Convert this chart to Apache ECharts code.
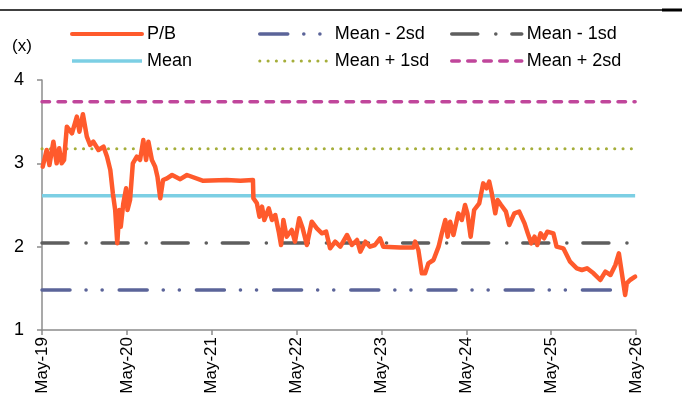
<!DOCTYPE html>
<html>
<head>
<meta charset="utf-8">
<script src="https://cdn.jsdelivr.net/npm/echarts@6/dist/echarts.min.js"></script>
<style>
html,body{margin:0;padding:0;background:#fff;}
#chart{width:682px;height:397px;}
</style>
</head>
<body>
<div id="chart"></div>
<script>
// ---- data ----
const dates = [
'2019-05-04','2019-05-21','2019-06-02','2019-06-19','2019-07-03','2019-07-14','2019-07-25','2019-08-04','2019-08-16','2019-09-07',
'2019-09-28','2019-10-09','2019-10-24','2019-11-10','2019-11-24','2019-12-08','2019-12-30','2020-01-21','2020-02-05','2020-02-19',
'2020-03-01','2020-03-11','2020-03-20','2020-03-29','2020-04-04','2020-04-15','2020-04-27','2020-05-03','2020-05-14','2020-05-26',
'2020-06-12','2020-06-26','2020-07-10','2020-07-22','2020-08-01','2020-08-16','2020-08-30','2020-09-09','2020-09-21','2020-10-03',
'2020-10-20','2020-11-11','2020-12-16','2021-01-14','2021-03-25','2021-07-04','2021-09-01','2021-10-25','2021-10-27','2021-11-11',
'2021-11-22','2021-12-03','2021-12-13','2022-01-01','2022-01-15','2022-01-29','2022-02-13','2022-02-23','2022-03-05','2022-03-19',
'2022-04-10','2022-04-24','2022-05-12','2022-05-27','2022-06-14','2022-07-05','2022-07-27','2022-08-18','2022-09-05','2022-09-22',
'2022-10-14','2022-11-05','2022-12-04','2022-12-25','2023-01-16','2023-01-30','2023-02-21','2023-03-13','2023-04-03','2023-04-25',
'2023-05-09','2023-07-20','2023-09-16','2023-09-23','2023-10-07','2023-10-22','2023-11-05','2023-11-19','2023-12-11','2024-01-02',
'2024-01-16','2024-01-31','2024-02-10','2024-02-21','2024-03-06','2024-03-27','2024-04-11','2024-04-25','2024-05-05','2024-05-19',
'2024-06-03','2024-06-25','2024-07-12','2024-07-26','2024-08-07','2024-08-18','2024-09-02','2024-09-12','2024-09-27','2024-10-18',
'2024-11-01','2024-11-23','2024-12-14','2025-01-06','2025-01-20','2025-02-04','2025-02-18','2025-03-02','2025-03-16','2025-03-31',
'2025-04-14','2025-05-10','2025-05-24','2025-06-22','2025-07-21','2025-08-19','2025-09-10','2025-10-02','2025-10-30','2025-11-28',
'2025-12-20','2026-01-11','2026-02-01','2026-02-16','2026-03-01','2026-03-15','2026-03-22','2026-04-05','2026-04-27'
];
const pb = [
2.96,3.16,2.98,3.26,3.00,3.18,3.00,3.04,3.44,3.36,
3.56,3.38,3.59,3.32,3.22,3.26,3.16,3.20,3.08,2.92,
2.64,2.44,2.04,2.44,2.24,2.52,2.70,2.44,2.56,3.00,
3.08,3.04,3.28,3.04,3.26,3.04,2.96,2.84,2.58,2.80,
2.82,2.86,2.81,2.86,2.79,2.80,2.79,2.80,2.58,2.52,
2.36,2.48,2.32,2.46,2.32,2.38,2.18,2.02,2.32,2.12,
2.20,2.06,2.34,2.22,2.02,2.30,2.22,2.16,2.18,1.98,
2.06,2.00,2.14,2.02,2.08,1.94,2.06,2.00,2.02,2.10,
2.00,1.99,1.99,2.06,1.96,1.68,1.68,1.80,1.84,2.00,
2.16,2.32,2.12,2.30,2.14,2.40,2.32,2.50,2.40,2.12,
2.44,2.52,2.76,2.70,2.78,2.64,2.40,2.56,2.50,2.42,
2.26,2.40,2.42,2.28,2.16,2.04,2.12,2.02,2.16,2.10,
2.18,2.16,2.00,1.98,1.82,1.74,1.72,1.74,1.68,1.60,
1.70,1.66,1.78,1.92,1.68,1.42,1.56,1.60,1.64
];
const bandNames = ['Mean - 2sd','Mean - 1sd','Mean','Mean + 1sd','Mean + 2sd'];
const bandValues = [1.48, 2.045, 2.61, 3.175, 3.74];
const bandStart = '2019-05-01';
const bandEnd = '2026-04-27';
const xTickLabels = ['May-19','May-20','May-21','May-22','May-23','May-24','May-25','May-26'];
const yTickLabels = ['1','2','3','4'];

// ---- helpers ----
const origin = Date.parse('2019-05-01T00:00:00Z');
const yearMs = 365.25 * 864e5;
const toX = d => (Date.parse(d + 'T00:00:00Z') - origin) / yearMs;

const bandStyles = {
  'Mean - 2sd': {color:'#5b6499', width:3.5, type:[28,16,0.1,16,0.1,17], cap:'round'},
  'Mean - 1sd': {color:'#5e5e5e', width:3.5, type:[26,18,0.1,16], cap:'round'},
  'Mean':       {color:'#7ccfe4', width:3.5, type:'solid', cap:'butt'},
  'Mean + 1sd': {color:'#a5ae3a', width:3, type:[0.1,8.2], cap:'round'},
  'Mean + 2sd': {color:'#c0469b', width:3.5, type:[7.5,8.5], cap:'round'}
};
const pbColor = '#ff5a2c';

const series = [];
series.push({
  name:'P/B', type:'line', symbol:'none', z:5,
  data: dates.map((d,i)=>[toX(d), pb[i]]),
  lineStyle:{color:pbColor, width:4.5, join:'round', cap:'round'},
  itemStyle:{color:pbColor}
});
bandNames.forEach((n,i)=>{
  const s = bandStyles[n];
  series.push({
    name:n, type:'line', symbol:'none', z:3,
    data:[[toX(bandStart), bandValues[i]],[toX(bandEnd), bandValues[i]]],
    lineStyle:{color:s.color, width:s.width, type:s.type, cap:s.cap},
    itemStyle:{color:s.color}
  });
});

const legendItem = n => {
  if (n === 'P/B') return {name:n, lineStyle:{width:4, color:pbColor, type:'solid'}};
  const s = bandStyles[n];
  return {name:n, lineStyle:{width:s.width, color:s.color, type:s.type, cap:s.cap}};
};

const legendBase = {
  orient:'vertical', top:25, padding:0, itemWidth:70, itemHeight:14, itemGap:9,
  itemStyle:{opacity:0},
  textStyle:{fontFamily:'Liberation Sans, Arial', fontSize:18, color:'#000', lineHeight:18},
  selectedMode:false
};

const chart = echarts.init(document.getElementById('chart'), null, {renderer:'canvas'});
chart.setOption({
  animation:false,
  backgroundColor:'#fff',
  textStyle:{fontFamily:'Liberation Sans, Arial'},
  grid:{left:42, right:46, top:80, bottom:67, containLabel:false},
  legend:[
    Object.assign({}, legendBase, {left:70, data:['P/B','Mean'].map(legendItem)}),
    Object.assign({}, legendBase, {left:258, data:['Mean - 2sd','Mean + 1sd'].map(legendItem)}),
    Object.assign({}, legendBase, {left:450, data:['Mean - 1sd','Mean + 2sd'].map(legendItem)})
  ],
  xAxis:{
    type:'value', min:0, max:7, interval:1,
    axisLine:{lineStyle:{color:'#8c8c8c', width:1.5}},
    axisTick:{show:true, length:5, lineStyle:{color:'#8c8c8c', width:1.5}},
    splitLine:{show:false},
    axisLabel:{rotate:90, margin:7, fontSize:17, color:'#000',
      formatter:v=>xTickLabels[Math.round(v)] || ''}
  },
  yAxis:{
    type:'value', min:1, max:4, interval:1,
    axisLine:{show:true, lineStyle:{color:'#8c8c8c', width:1.5}},
    axisTick:{show:true, length:5, lineStyle:{color:'#8c8c8c', width:1.5}},
    splitLine:{show:false},
    axisLabel:{margin:18, fontSize:18, color:'#000',
      formatter:v=>yTickLabels[Math.round(v)-1] || ''}
  },
  graphic:[
    {type:'line', shape:{x1:0,y1:10,x2:682,y2:10}, style:{stroke:'#000', lineWidth:1.5}},
    {type:'line', shape:{x1:662,y1:10,x2:682,y2:10}, style:{stroke:'#000', lineWidth:3}},
    {type:'text', left:12, top:38, style:{text:'(x)', fontSize:17, fill:'#000', fontFamily:'Liberation Sans, Arial'}}
  ],
  series:series
});
</script>
</body>
</html>
